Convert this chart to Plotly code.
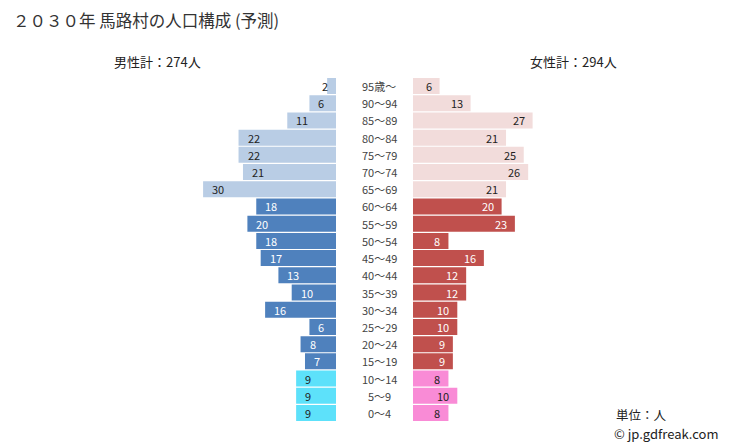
import plotly.graph_objects as go

ages = ["95歳～", "90～94", "85～89", "80～84", "75～79", "70～74", "65～69",
        "60～64", "55～59", "50～54", "45～49", "40～44", "35～39", "30～34",
        "25～29", "20～24", "15～19", "10～14", "5～9", "0～4"]
male = [2, 6, 11, 22, 22, 21, 30, 18, 20, 18, 17, 13, 10, 16, 6, 8, 7, 9, 9, 9]
female = [6, 13, 27, 21, 25, 26, 21, 20, 23, 8, 16, 12, 12, 10, 10, 9, 9, 8, 10, 8]
groups = ["old"] * 7 + ["work"] * 10 + ["young"] * 3

male_col = {"old": "#b9cde5", "work": "#4f81bd", "young": "#5de1fa"}
female_col = {"old": "#f2dcdb", "work": "#c0504d", "young": "#f98bd6"}
txt_col = {"old": "#222222", "work": "#ffffff", "young": "#222222"}

W, H = 729, 446
FONT = "Noto Sans CJK JP"

def px_x(p):
    return p / W

def px_y(p):
    return 1 - p / H

fig = go.Figure()
fig.add_trace(go.Bar(y=ages, x=male, orientation="h", xaxis="x", yaxis="y",
                     marker=dict(color=[male_col[g] for g in groups], line=dict(width=0)),
                     hoverinfo="x+y", showlegend=False))
fig.add_trace(go.Bar(y=ages, x=female, orientation="h", xaxis="x2", yaxis="y2",
                     marker=dict(color=[female_col[g] for g in groups], line=dict(width=0)),
                     hoverinfo="x+y", showlegend=False))

male_l, male_r = 190, 336
fem_l, fem_r = 413, 560
scale = 4.43
row_top, row_bot = 77.4, 421.6

ann = []
for a, m, f, g in zip(ages, male, female, groups):
    ann.append(dict(x=max(m, 5.2), y=a, xref="x", yref="y", text=str(m), showarrow=False,
                    xanchor="left", xshift=7, font=dict(size=11, color=txt_col[g], family=FONT)))
    ann.append(dict(x=f, y=a, xref="x2", yref="y2", text=str(f), showarrow=False,
                    xanchor="right", xshift=-6, font=dict(size=11, color=txt_col[g], family=FONT)))
    ann.append(dict(x=px_x(379), y=a, xref="paper", yref="y", text=a, showarrow=False,
                    xanchor="center", font=dict(size=11, color="#444444", family=FONT)))

ann += [
    dict(x=px_x(11), y=px_y(20), xref="paper", yref="paper", text="２０３０年 馬路村の人口構成 (予測)",
         showarrow=False, xanchor="left", yanchor="middle", font=dict(size=16.5, color="#333333", family=FONT)),
    dict(x=px_x(157), y=px_y(62), xref="paper", yref="paper", text="男性計：274人",
         showarrow=False, xanchor="center", yanchor="middle", font=dict(size=13, color="#222222", family=FONT)),
    dict(x=px_x(573), y=px_y(62), xref="paper", yref="paper", text="女性計：294人",
         showarrow=False, xanchor="center", yanchor="middle", font=dict(size=13, color="#222222", family=FONT)),
    dict(x=px_x(614), y=px_y(414), xref="paper", yref="paper", text="単位：人",
         showarrow=False, xanchor="left", yanchor="middle", font=dict(size=12.5, color="#222222", family=FONT)),
    dict(x=px_x(612), y=px_y(433), xref="paper", yref="paper", text="© jp.gdfreak.com",
         showarrow=False, xanchor="left", yanchor="middle", font=dict(size=13, color="#222222", family=FONT)),
]

ydom = [px_y(row_bot), px_y(row_top)]
fig.update_layout(
    width=W, height=H, margin=dict(l=0, r=0, t=0, b=0),
    paper_bgcolor="white", plot_bgcolor="white",
    bargap=0.07, annotations=ann,
    font=dict(family=FONT),
    xaxis=dict(domain=[px_x(male_l), px_x(male_r)], range=[(male_r - male_l) / scale, 0],
               visible=False, fixedrange=True),
    xaxis2=dict(domain=[px_x(fem_l), px_x(fem_r)], range=[0, (fem_r - fem_l) / scale],
                visible=False, fixedrange=True),
    yaxis=dict(domain=ydom, categoryorder="array", categoryarray=ages[::-1], visible=False,
               range=[-0.5, 19.5], anchor="x"),
    yaxis2=dict(domain=ydom, categoryorder="array", categoryarray=ages[::-1], visible=False,
                range=[-0.5, 19.5], anchor="x2", matches="y"),
)
fig.write_html("out.html")
